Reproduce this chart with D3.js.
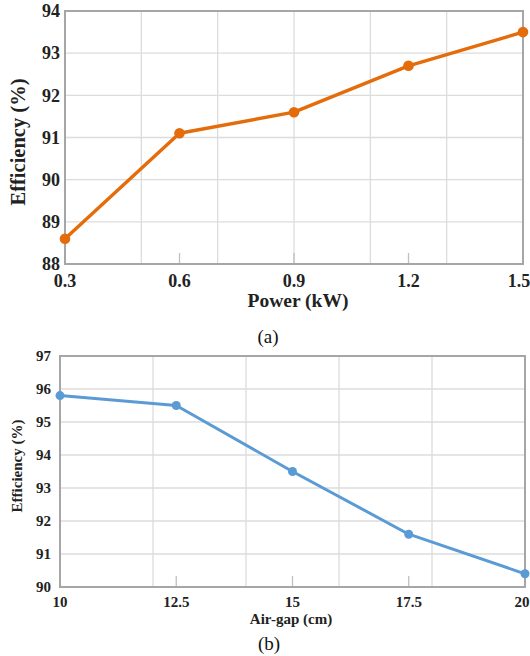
<!DOCTYPE html>
<html><head><meta charset="utf-8">
<script src="https://cdn.jsdelivr.net/npm/d3@7"></script>
<style>body{margin:0;background:#fff}svg{display:block}</style>
</head><body>
<svg id="c" width="530" height="656"></svg>
<script>
// Chart (a)
const powerKW = [0.3, 0.6, 0.9, 1.2, 1.5];
const effA = [88.6, 91.1, 91.6, 92.7, 93.5];
const xTicksA = [0.3, 0.6, 0.9, 1.2, 1.5];
const xGridA = [0.3, 0.5, 0.7, 0.9, 1.1, 1.3, 1.5];
const yTicksA = [88, 89, 90, 91, 92, 93, 94];
// Chart (b)
const airGap = [10, 12.5, 15, 17.5, 20];
const effB = [95.8, 95.5, 93.5, 91.6, 90.4];
const xTicksB = [10, 12.5, 15, 17.5, 20];
const xGridB = [10, 12, 14, 16, 18, 20];
const yTicksB = [90, 91, 92, 93, 94, 95, 96, 97];

const svg = d3.select("#c");
const serif = "Liberation Serif, Tinos, Times New Roman, serif";

function panel(o) {
  const x = d3.scaleLinear().domain(o.xd).range([o.l, o.r]);
  const y = d3.scaleLinear().domain(o.yd).range([o.b, o.t]);
  const g = svg.append("g").style("font-family", serif);
  g.selectAll(".hg").data(o.yt).join("line")
    .attr("x1", o.l).attr("x2", o.r).attr("y1", d => y(d)).attr("y2", d => y(d))
    .attr("stroke", "#dcdcdc").attr("stroke-width", 1.3);
  g.selectAll(".vg").data(o.xg).join("line")
    .attr("x1", d => x(d)).attr("x2", d => x(d)).attr("y1", o.t).attr("y2", o.b)
    .attr("stroke", "#dcdcdc").attr("stroke-width", 1.3);
  g.selectAll(".tk").data(o.xt).join("line")
    .attr("x1", d => x(d)).attr("x2", d => x(d)).attr("y1", o.b).attr("y2", o.b - o.tick)
    .attr("stroke", "#bfbfbf").attr("stroke-width", 1.3);
  g.append("rect").attr("x", o.l).attr("y", o.t).attr("width", o.r - o.l).attr("height", o.b - o.t)
    .attr("fill", "none").attr("stroke", "#a6a6a6").attr("stroke-width", 2);
  g.selectAll(".yl").data(o.yt).join("text")
    .attr("x", o.l - o.ylOff).attr("y", d => y(d)).attr("dy", "0.35em")
    .attr("text-anchor", "end").style("font-weight", "bold")
    .style("font-size", o.fs + "px").attr("fill", "#222").text(d => d);
  g.selectAll(".xl").data(o.xt).join("text")
    .attr("x", (d, i) => x(d) + (i === o.xt.length - 1 ? o.lastShift : 0)).attr("y", o.b + o.xlOff)
    .attr("text-anchor", "middle").style("font-weight", "bold")
    .style("font-size", o.fs + "px").attr("fill", "#222").text(d => d);
  const data = o.xs.map((v, i) => [v, o.ys[i]]);
  g.append("path").datum(data)
    .attr("d", d3.line().x(d => x(d[0])).y(d => y(d[1])))
    .attr("fill", "none").attr("stroke", o.color).attr("stroke-width", o.lw)
    .attr("stroke-linejoin", "round");
  g.selectAll(".pt").data(data).join("circle")
    .attr("cx", d => x(d[0])).attr("cy", d => y(d[1])).attr("r", o.mr).attr("fill", o.color);
  g.append("text").attr("transform", `translate(${o.ylx},${o.yly}) rotate(-90)`)
    .attr("dy", "0.35em").attr("text-anchor", "middle")
    .style("font-weight", "bold").style("font-size", o.ytfs + "px").attr("fill", "#222").text(o.ytitle);
  g.append("text").attr("x", o.xtx).attr("y", o.xty)
    .attr("text-anchor", "middle")
    .style("font-weight", "bold").style("font-size", o.tfs + "px").attr("fill", "#222").text(o.xtitle);
  g.append("text").attr("x", o.capx).attr("y", o.capy)
    .attr("text-anchor", "middle")
    .style("font-size", "19px").attr("fill", "#111").text(o.cap);
}

panel({
  l: 65, r: 523, t: 11, b: 264, xd: [0.3, 1.5], yd: [88, 94],
  xt: xTicksA, xg: xGridA, yt: yTicksA, xs: powerKW, ys: effA,
  color: "#E46C0A", lw: 3.4, mr: 5.3, fs: 18, tfs: 19.5, ytfs: 20.5, tick: 11,
  xlOff: 23, ylOff: 5, lastShift: -4,
  ylx: 18, yly: 142, ytitle: "Efficiency (%)", xtx: 298, xty: 307, xtitle: "Power (kW)",
  capx: 268, capy: 343, cap: "(a)"
});
panel({
  l: 60, r: 525, t: 356, b: 587, xd: [10, 20], yd: [90, 97],
  xt: xTicksB, xg: xGridB, yt: yTicksB, xs: airGap, ys: effB,
  color: "#5B9BD5", lw: 3, mr: 4.5, fs: 15, tfs: 15, ytfs: 15, tick: 11,
  xlOff: 20, ylOff: 9, lastShift: -3,
  ylx: 17, yly: 466, ytitle: "Efficiency (%)", xtx: 291, xty: 624, xtitle: "Air-gap (cm)",
  capx: 269, capy: 650, cap: "(b)"
});
</script>
</body></html>
